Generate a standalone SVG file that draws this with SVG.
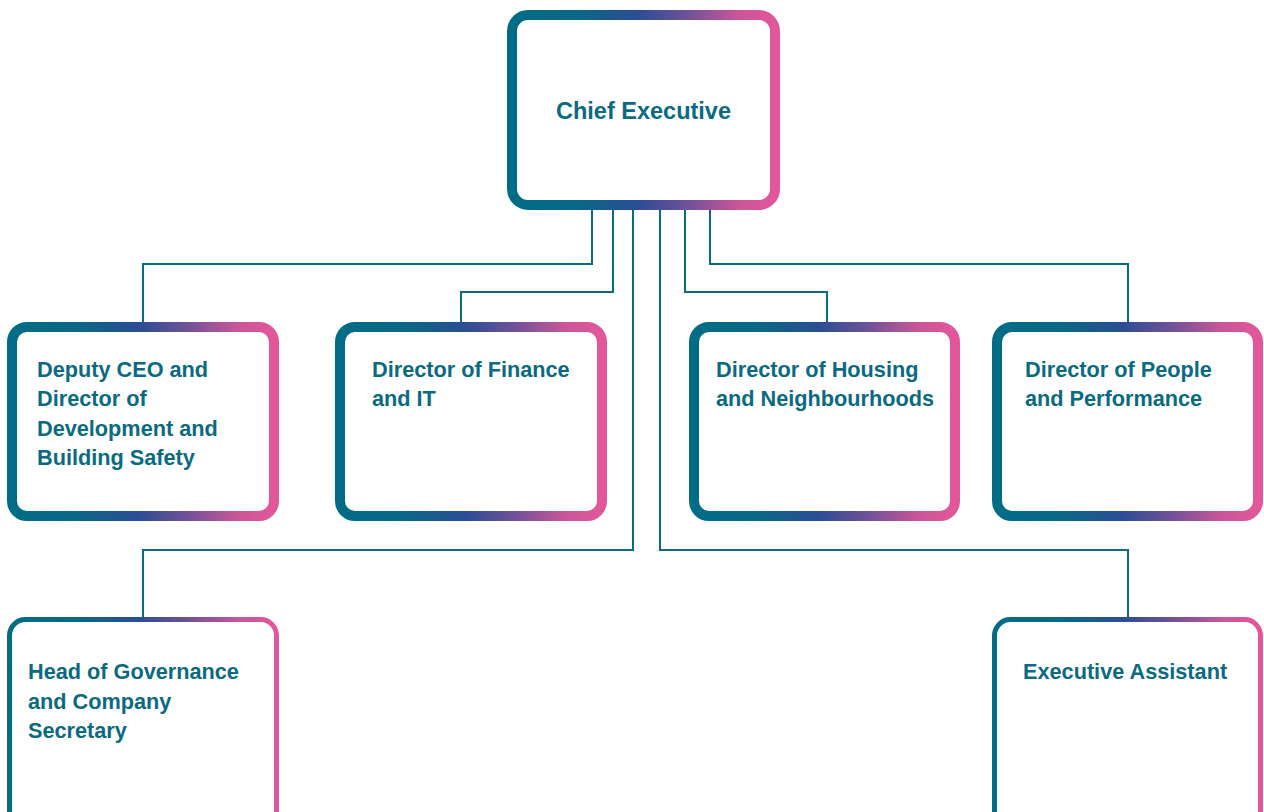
<svg xmlns="http://www.w3.org/2000/svg" width="1264" height="812" viewBox="0 0 1264 812">
<defs>
<linearGradient id="g" x1="0" y1="0" x2="1" y2="0">
<stop offset="0" stop-color="#006c85"/>
<stop offset="0.25" stop-color="#0a6787"/>
<stop offset="0.48" stop-color="#2b4d95"/>
<stop offset="0.66" stop-color="#6c5199"/>
<stop offset="0.86" stop-color="#c95699"/>
<stop offset="1" stop-color="#e2579a"/>
</linearGradient>
<style>
.box{fill:#fff;stroke:url(#g);stroke-width:10}
.thin{fill:#fff;stroke:url(#g);stroke-width:5}
.t{font-family:"Liberation Sans",Arial,sans-serif;font-weight:bold;font-size:21.7px;fill:#0a6a80}
.c{fill:none;stroke:#0a6a80;stroke-width:2}
</style>
</defs>
<rect width="1264" height="812" fill="#fff"/>
<g id="connectors">
<polyline class="c" points="592,208 592,264 143,264 143,323"/>
<polyline class="c" points="613,208 613,292 461,292 461,323"/>
<polyline class="c" points="685,208 685,292 827,292 827,323"/>
<polyline class="c" points="710,208 710,264 1128,264 1128,323"/>
<polyline class="c" points="633,208 633,550 143,550 143,618"/>
<polyline class="c" points="660,208 660,550 1128,550 1128,618"/>
</g>
<g id="ceo">
<rect class="box" x="512" y="15" width="263" height="190" rx="16"/>
<text class="t" x="643.5" y="119" text-anchor="middle" font-size="23.5px" style="font-size:23.5px">Chief Executive</text>
</g>
<g id="deputy">
<rect class="box" x="12" y="327" width="262" height="189" rx="15"/>
<text class="t" x="37" y="377">Deputy CEO and</text>
<text class="t" x="37" y="406">Director of</text>
<text class="t" x="37" y="436">Development and</text>
<text class="t" x="37" y="465">Building Safety</text>
</g>
<g id="finance">
<rect class="box" x="340" y="327" width="262" height="189" rx="15"/>
<text class="t" x="372" y="377">Director of Finance</text>
<text class="t" x="372" y="406">and IT</text>
</g>
<g id="housing">
<rect class="box" x="694" y="327" width="261" height="189" rx="15"/>
<text class="t" x="716" y="377">Director of Housing</text>
<text class="t" x="716" y="406">and Neighbourhoods</text>
</g>
<g id="people">
<rect class="box" x="997" y="327" width="261" height="189" rx="15"/>
<text class="t" x="1025" y="377">Director of People</text>
<text class="t" x="1025" y="406">and Performance</text>
</g>
<g id="governance">
<rect class="thin" x="9.5" y="619.5" width="267" height="210" rx="16"/>
<text class="t" x="28" y="679">Head of Governance</text>
<text class="t" x="28" y="709">and Company</text>
<text class="t" x="28" y="738">Secretary</text>
</g>
<g id="assistant">
<rect class="thin" x="994.5" y="619.5" width="266" height="210" rx="16"/>
<text class="t" x="1023" y="679">Executive Assistant</text>
</g>
</svg>
